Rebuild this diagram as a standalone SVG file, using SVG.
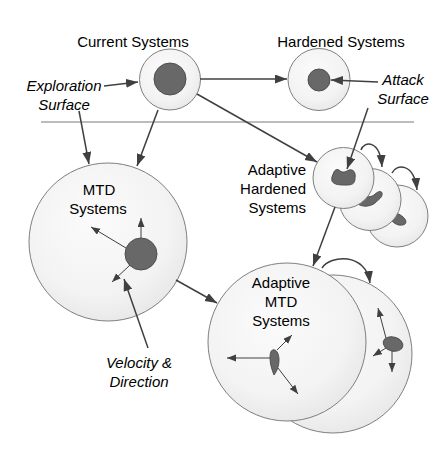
<svg xmlns="http://www.w3.org/2000/svg" width="448" height="451" viewBox="0 0 448 451">
<defs>
<radialGradient id="g" cx="0.45" cy="0.4" r="0.65" fx="0.4" fy="0.35">
<stop offset="0" stop-color="#fbfbfb"/>
<stop offset="0.7" stop-color="#f3f3f3"/>
<stop offset="1" stop-color="#e6e6e6"/>
</radialGradient>
<marker id="ah" markerUnits="userSpaceOnUse" markerWidth="13" markerHeight="10" refX="12" refY="4.5" orient="auto">
<path d="M0,0 L12,4.5 L0,9 Z" fill="#404040"/>
</marker>
<marker id="as" markerUnits="userSpaceOnUse" markerWidth="10" markerHeight="8" refX="9" refY="3.5" orient="auto">
<path d="M0,0 L9,3.5 L0,7 Z" fill="#404040"/>
</marker>
<style>
.c{fill:url(#g);stroke:#7f7f7f;stroke-width:1}
.d{fill:#686868;stroke:#4f4f4f;stroke-width:1}
.t{font-family:"Liberation Sans",Arial,sans-serif;font-size:15px;fill:#000}
.i{font-style:italic}
.m{text-anchor:middle}
.e{text-anchor:end}
.a{fill:none;stroke:#404040;stroke-width:1.5;marker-end:url(#ah)}
.s{fill:none;stroke:#404040;stroke-width:1;marker-end:url(#as)}
</style>
</defs>
<rect width="448" height="451" fill="#fff"/>
<line x1="41" y1="122" x2="414" y2="122" stroke="#a6a6a6" stroke-width="1.5"/>

<g id="current-systems">
<circle class="c" cx="170" cy="79.5" r="30.5"/>
<circle class="d" cx="170" cy="79" r="16"/>
<text class="t m" x="133" y="47">Current Systems</text>
</g>

<g id="hardened-systems">
<circle class="c" cx="319" cy="79.5" r="31"/>
<circle class="d" cx="319" cy="80" r="11"/>
<text class="t m" x="341" y="47">Hardened Systems</text>
</g>

<g id="exploration-surface">
<text class="t i m" x="64" y="91">Exploration</text>
<text class="t i m" x="64" y="110">Surface</text>
</g>

<g id="attack-surface">
<text class="t i m" x="403" y="85">Attack</text>
<text class="t i m" x="403" y="104">Surface</text>
</g>

<g id="adaptive-hardened-systems">
<circle class="c" cx="397" cy="216" r="31"/>
<path class="d" d="M390,214 C395,212 400,214 403,217 C407,220 407,225 402,225 C397,226 392,222 390,218 Z"/>
<circle class="c" cx="370" cy="199.5" r="31"/>
<path class="d" d="M358,200 C362,196 370,198 374,195 C377,192 381,190 382,193 C383,197 378,200 375,203 C370,207 362,207 358,204 Z"/>
<circle class="c" cx="343.5" cy="178" r="30.5"/>
<path class="d" d="M334,172 C335,169 339,169 340,171 C343,173 345,172 349,170 C353,169 356,172 355,178 C355,184 352,185 346,185 C340,185 334,185 332,181 C331,177 333,175 334,172 Z"/>
<text class="t e" x="306" y="175">Adaptive</text>
<text class="t e" x="306" y="194">Hardened</text>
<text class="t e" x="306" y="213">Systems</text>
</g>

<g id="mtd-systems">
<circle class="c" cx="108" cy="242" r="79"/>
<circle class="d" cx="141" cy="254" r="16"/>
<line class="s" x1="141" y1="238" x2="141" y2="218"/>
<line class="s" x1="126" y1="248" x2="91" y2="227"/>
<line class="s" x1="130" y1="265" x2="112" y2="282"/>
<text class="t m" x="99" y="195">MTD</text>
<text class="t m" x="98" y="214">Systems</text>
</g>

<g id="velocity-direction">
<text class="t i m" x="139" y="368">Velocity &amp;</text>
<text class="t i m" x="139" y="387">Direction</text>
</g>

<g id="adaptive-mtd-systems">
<circle class="c" cx="333" cy="354" r="79"/>
<ellipse class="d" cx="393" cy="344" rx="10" ry="7" transform="rotate(15 393 344)"/>
<line class="s" x1="386" y1="338" x2="378" y2="308"/>
<line class="s" x1="386" y1="348" x2="373" y2="356"/>
<line class="s" x1="392" y1="351" x2="392" y2="372"/>
<circle class="c" cx="287" cy="342" r="79"/>
<line class="s" x1="272" y1="358" x2="227" y2="358"/>
<line class="s" x1="277" y1="350" x2="292" y2="335"/>
<line class="s" x1="278" y1="368" x2="298" y2="394"/>
<path class="d" d="M273,350 C276,349 279,353 279,360 C279,366 277,371 274,375 C272,370 270,364 270,358 C270,353 271,350 273,350 Z"/>
<text class="t m" x="281" y="288">Adaptive</text>
<text class="t m" x="281" y="307">MTD</text>
<text class="t m" x="281" y="326">Systems</text>
</g>

<g id="connectors">
<line class="a" x1="104" y1="86" x2="138" y2="82"/>
<line class="a" x1="200" y1="79" x2="287" y2="79"/>
<line class="a" x1="378" y1="82" x2="331" y2="80"/>
<line class="a" x1="79" y1="111" x2="89" y2="164"/>
<line class="a" x1="158" y1="110" x2="137" y2="166"/>
<line class="a" x1="197" y1="94" x2="317" y2="162"/>
<line class="a" x1="368" y1="108" x2="347" y2="169"/>
<line class="a" x1="335" y1="207" x2="313" y2="266"/>
<line class="a" x1="176" y1="280" x2="217" y2="303"/>
<line class="a" x1="148" y1="348" x2="124" y2="279"/>
<path class="a" d="M361,150 C364,141 380,139 382,167"/>
<path class="a" d="M392,173 C396,164 414,162 417,190"/>
<path class="a" d="M322,268 C330,255 366,252 370,283"/>
</g>
</svg>
